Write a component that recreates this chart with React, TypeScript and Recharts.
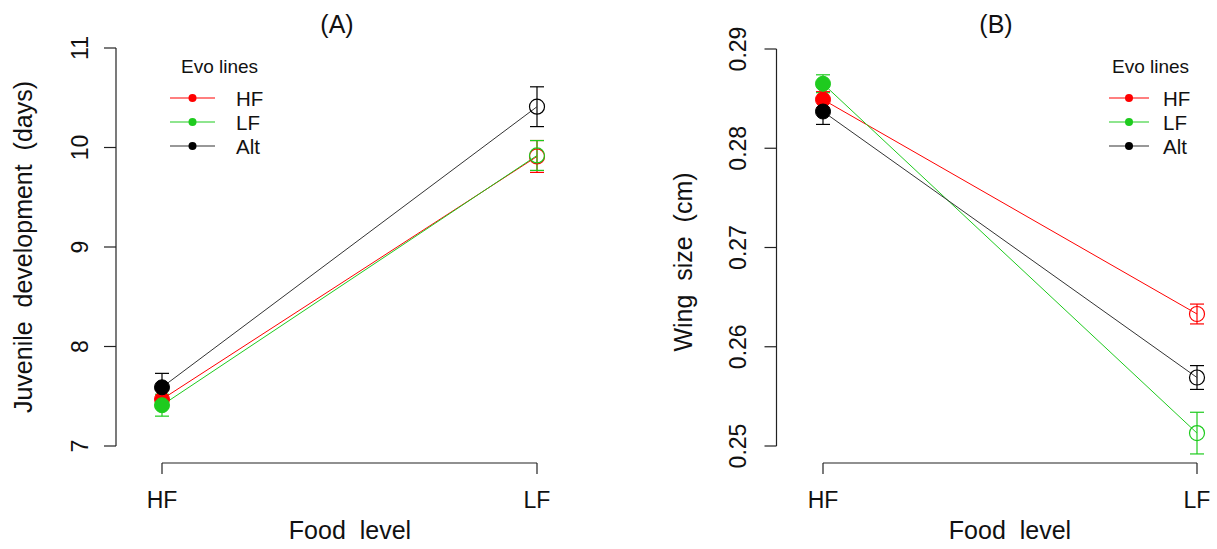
import React from 'react';
import { ComposedChart, Line, XAxis, YAxis, ErrorBar, ReferenceLine, Label } from 'recharts';

const FONT = '"Liberation Sans", Arial, sans-serif';

const foodLevels = ['HF', 'LF'];
const evoLines = ['HF', 'LF', 'Alt'];
const evoColors = ['#ff0000', '#1ecb1e', '#000000'];

// (A) juvenile development, days
const devHF = [7.47, 9.91];
const devHFErr = [0.09, 0.16];
const devLF = [7.41, 9.92];
const devLFErr = [0.11, 0.15];
const devAlt = [7.59, 10.41];
const devAltErr = [0.14, 0.2];
const devTicks = [7, 8, 9, 10, 11];

// (B) wing size, cm
const wingHF = [0.2849, 0.2633];
const wingHFErr = [0.0008, 0.001];
const wingLF = [0.2865, 0.2513];
const wingLFErr = [0.0009, 0.0021];
const wingAlt = [0.2837, 0.2569];
const wingAltErr = [0.0013, 0.0012];
const wingTicks = [0.25, 0.26, 0.27, 0.28, 0.29];

const buildRows = (
  hf: number[], hfErr: number[], lf: number[], lfErr: number[], alt: number[], altErr: number[]
) =>
  foodLevels.map((_, i) => ({
    x: i + 1,
    hf: hf[i], hfErr: hfErr[i],
    lf: lf[i], lfErr: lfErr[i],
    alt: alt[i], altErr: altErr[i],
  }));

const devRows = buildRows(devHF, devHFErr, devLF, devLFErr, devAlt, devAltErr);
const wingRows = buildRows(wingHF, wingHFErr, wingLF, wingLFErr, wingAlt, wingAltErr);

const makeDot = (color: string) => (props: any) => {
  const { cx, cy, index } = props;
  if (index === 0) {
    return <circle key={`d-${index}`} cx={cx} cy={cy} r={7.5} fill={color} stroke={color} />;
  }
  return <circle key={`d-${index}`} cx={cx} cy={cy} r={7.5} fill="none" stroke={color} strokeWidth={1.2} />;
};

interface PanelProps {
  data: any[];
  ticks: number[];
  yDomain: [number, number];
  xDomain: [number, number];
  width: number;
  margin: { top: number; right: number; bottom: number; left: number };
  yTickMargin: number;
  fmt: (v: number) => string;
  yLabel: string;
  yLabelX: number;
  yLabelY: number;
  xLabelX: number;
}

const Panel = (p: PanelProps) => {
  const keys = ['hf', 'lf', 'alt'];
  const rotTick = (props: any) => {
    const { x, y, payload } = props;
    return (
      <text x={x} y={y} transform={`rotate(-90 ${x} ${y})`} textAnchor="middle"
        fontSize={23} fontFamily={FONT} fill="#111">
        {p.fmt(payload.value)}
      </text>
    );
  };
  return (
    <ComposedChart width={p.width} height={549} data={p.data} margin={p.margin}>
      <XAxis type="number" dataKey="x" domain={p.xDomain} ticks={[1, 2]} allowDataOverflow
        axisLine={false} tickSize={11} tickMargin={18} height={86}
        tickLine={{ stroke: '#222', strokeWidth: 1.2 }}
        tick={{ fontSize: 23, fontFamily: FONT, fill: '#111' }}
        tickFormatter={(v: number) => foodLevels[v - 1]}>
        <Label content={() => (
          <text x={p.xLabelX} y={539} textAnchor="middle" fontSize={25} fontFamily={FONT} fill="#111"
            style={{ whiteSpace: 'pre' }}>
            {'Food  level'}
          </text>
        )} />
      </XAxis>
      <YAxis type="number" domain={p.yDomain} ticks={p.ticks} allowDataOverflow
        axisLine={false} tickSize={12} tickMargin={p.yTickMargin} width={100}
        tickLine={{ stroke: '#222', strokeWidth: 1.2 }} tick={rotTick}>
        <Label content={() => (
          <text x={p.yLabelX} y={p.yLabelY} transform={`rotate(-90 ${p.yLabelX} ${p.yLabelY})`}
            textAnchor="middle" dominantBaseline="central" fontSize={25} fontFamily={FONT} fill="#111"
            style={{ whiteSpace: 'pre' }}>
            {p.yLabel}
          </text>
        )} />
      </YAxis>
      <ReferenceLine ifOverflow="visible" stroke="#222" strokeWidth={1.2}
        segment={[{ x: p.xDomain[0], y: p.ticks[0] }, { x: p.xDomain[0], y: p.ticks[p.ticks.length - 1] }]} />
      <ReferenceLine ifOverflow="visible" stroke="#222" strokeWidth={1.2}
        segment={[{ x: 1, y: p.yDomain[0] }, { x: 2, y: p.yDomain[0] }]} />
      {keys.map((k, i) => (
        <Line key={k} type="linear" dataKey={k} stroke={i === 2 ? '#333' : evoColors[i]} strokeWidth={1}
          dot={makeDot(evoColors[i])} activeDot={false} isAnimationActive={false}>
          <ErrorBar dataKey={`${k}Err`} direction="y" width={7} stroke={evoColors[i]}
            strokeWidth={1.2} isAnimationActive={false} />
        </Line>
      ))}
    </ComposedChart>
  );
};

const EvoLegend = ({ left, top, lineX, lineW, textX, titleX }: any) => (
  <svg style={{ position: 'absolute', left, top }} width={110} height={110}>
    <text x={titleX} y={23} fontSize={19} fontFamily={FONT} fill="#111">Evo lines</text>
    {evoLines.map((name, i) => {
      const cy = 48 + i * 24;
      return (
        <g key={name}>
          <line x1={lineX} x2={lineX + lineW} y1={cy} y2={cy} stroke={i === 2 ? '#333' : evoColors[i]} strokeWidth={1.2} />
          <circle cx={lineX + lineW / 2} cy={cy} r={4} fill={evoColors[i]} />
          <text x={textX} y={cy + 7.5} fontSize={20.5} fontFamily={FONT} fill="#111">{name}</text>
        </g>
      );
    })}
  </svg>
);

const Title = ({ cx, text }: { cx: number; text: string }) => (
  <div style={{
    position: 'absolute', left: cx - 50, top: 12, width: 100, textAlign: 'center',
    fontSize: 25, lineHeight: '25px', fontFamily: FONT, color: '#111',
  }}>{text}</div>
);

export default function App() {
  return (
    <div style={{ position: 'absolute', left: 0, top: 0, width: 1217, height: 549, background: '#fff', overflow: 'hidden' }}>
      <div style={{ position: 'absolute', left: 0, top: 0 }}>
        <Panel data={devRows} ticks={devTicks} width={600}
          yDomain={[7 - 17 * (4 / 398), 11]}
          xDomain={[1 - 46 / 375, 2 + 46 / 375]}
          margin={{ top: 48, right: 17, bottom: 0, left: 16 }}
          yTickMargin={16} fmt={(v) => String(v)}
          yLabel="Juvenile  development  (days)" yLabelX={23} yLabelY={247} xLabelX={350} />
      </div>
      <div style={{ position: 'absolute', left: 600, top: 0 }}>
        <Panel data={wingRows} ticks={wingTicks} width={617}
          yDomain={[0.25 - 17 * (0.04 / 397), 0.29]}
          xDomain={[1 - 46.5 / 374, 1 + 387 / 374]}
          margin={{ top: 49, right: 7, bottom: 0, left: 76.5 }}
          yTickMargin={19} fmt={(v) => v.toFixed(2)}
          yLabel="Wing  size  (cm)" yLabelX={83} yLabelY={262} xLabelX={410} />
      </div>
      <Title cx={337} text="(A)" />
      <Title cx={996} text="(B)" />
      <EvoLegend left={165} top={50} lineX={5} lineW={45} textX={71} titleX={16} />
      <EvoLegend left={1100} top={50} lineX={9} lineW={40} textX={63} titleX={12} />
    </div>
  );
}
